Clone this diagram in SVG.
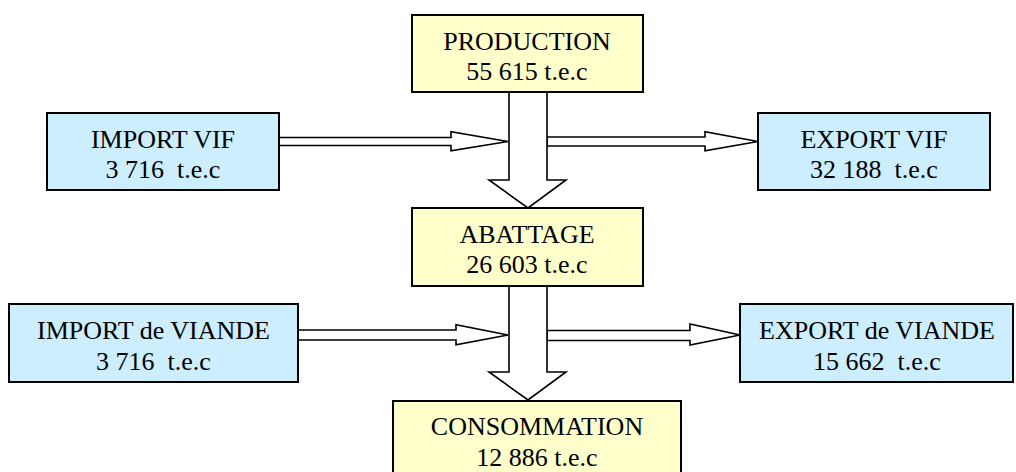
<svg xmlns="http://www.w3.org/2000/svg" width="1016" height="472" viewBox="0 0 1016 472">
<style>
.y{fill:#FFFFCC;stroke:#000;stroke-width:2}
.b{fill:#CCEEFF;stroke:#000;stroke-width:2}
.a{fill:#fff;stroke:#000;stroke-width:1.6;stroke-linejoin:miter}
.t{font-family:'Liberation Serif','Times New Roman','DejaVu Serif',serif;font-size:26px;fill:#000;text-anchor:middle;white-space:pre}
</style>
<g id="connectors">
<polygon class="a" points="279,137.5 451,137.5 451,131.7 508,141.5 451,150.7 451,145.5 279,145.5"/>
<polygon class="a" points="547,137 705,137 705,131.7 758,141.5 705,150.7 705,146 547,146"/>
<polygon class="a" points="298,330 456,330 456,324.8 508,335 456,344.8 456,340 298,340"/>
<polygon class="a" points="547,330.5 690,330.5 690,324 740,335 690,345 690,340.5 547,340.5"/>
<polygon class="a" points="509,92 547,92 547,180 566,180 528,208 489,180 509,180"/>
<polygon class="a" points="509,286 547,286 547,372 566,372 528,400 489,372 509,372"/>
</g>
<g id="production">
<rect class="y" x="412" y="15" width="231" height="77"/>
<text class="t" font-family="Liberation Serif, serif" x="527" y="50">PRODUCTION</text>
<text class="t" font-family="Liberation Serif, serif" x="527" y="80">55 615 t.e.c</text>
</g>
<g id="import-vif">
<rect class="b" x="47" y="113" width="232" height="77"/>
<text class="t" font-family="Liberation Serif, serif" x="163" y="148">IMPORT VIF</text>
<text class="t" font-family="Liberation Serif, serif" x="163" y="178" xml:space="preserve">3 716  t.e.c</text>
</g>
<g id="export-vif">
<rect class="b" x="758" y="113" width="232" height="77"/>
<text class="t" font-family="Liberation Serif, serif" x="874" y="148">EXPORT VIF</text>
<text class="t" font-family="Liberation Serif, serif" x="874" y="178" xml:space="preserve">32 188  t.e.c</text>
</g>
<g id="abattage">
<rect class="y" x="412" y="208" width="231" height="78"/>
<text class="t" font-family="Liberation Serif, serif" x="527" y="243">ABATTAGE</text>
<text class="t" font-family="Liberation Serif, serif" x="527" y="273">26 603 t.e.c</text>
</g>
<g id="import-viande">
<rect class="b" x="9" y="304" width="289" height="78"/>
<text class="t" font-family="Liberation Serif, serif" x="153.5" y="339">IMPORT de VIANDE</text>
<text class="t" font-family="Liberation Serif, serif" x="153.5" y="370" xml:space="preserve">3 716  t.e.c</text>
</g>
<g id="export-viande">
<rect class="b" x="740" y="304" width="273" height="78"/>
<text class="t" font-family="Liberation Serif, serif" x="877" y="339">EXPORT de VIANDE</text>
<text class="t" font-family="Liberation Serif, serif" x="877" y="370" xml:space="preserve">15 662  t.e.c</text>
</g>
<g id="consommation">
<rect class="y" x="393" y="401" width="288" height="77"/>
<text class="t" font-family="Liberation Serif, serif" x="537" y="435">CONSOMMATION</text>
<text class="t" font-family="Liberation Serif, serif" x="537" y="466">12 886 t.e.c</text>
</g>
</svg>
